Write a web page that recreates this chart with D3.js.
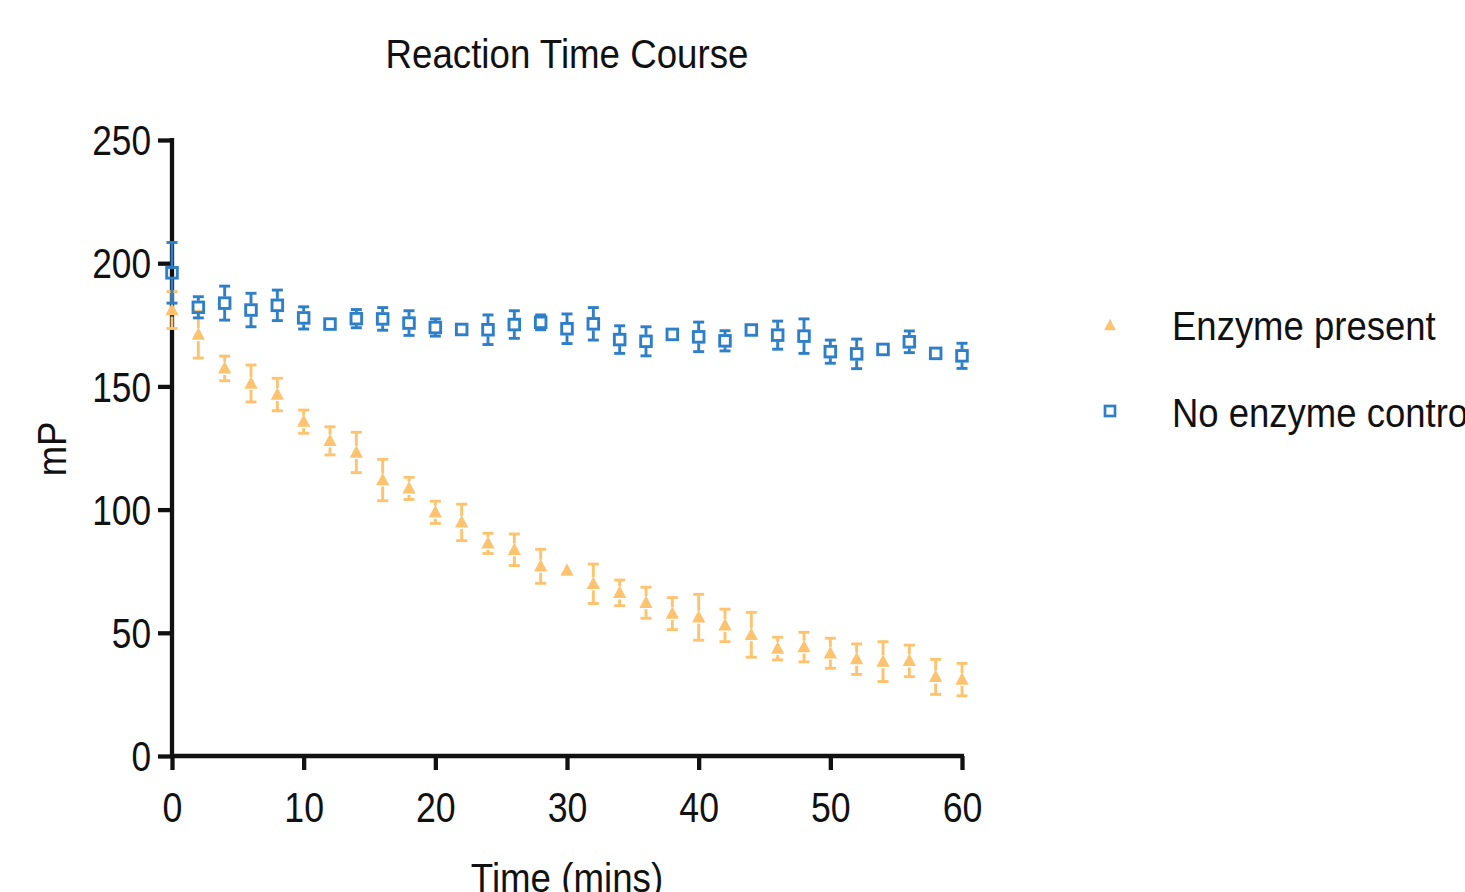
<!DOCTYPE html>
<html>
<head>
<meta charset="utf-8">
<script src="https://cdn.jsdelivr.net/npm/d3@7"></script>
<style>
  body { margin: 0; background: #fff; }
  text { font-family: "Liberation Sans", Arial, sans-serif; fill: #111; }
</style>
</head>
<body>
<div id="chart"></div>
<script>
// time points (mins)
var timePoints = [0, 2, 4, 6, 8, 10, 12, 14, 16, 18, 20, 22, 24, 26, 28, 30,
                  32, 34, 36, 38, 40, 42, 44, 46, 48, 50, 52, 54, 56, 58, 60];

// Enzyme present: mean mP and error
var enzymeMean = [181, 171, 157.3, 151.2, 146.7, 135.7, 127.9, 123.2, 112, 108.6, 98.9,
                  94.8, 86.3, 83.7, 77, 75.3, 69.9, 66.2, 62.2, 57.8, 56.3,
                  53, 49.2, 43.6, 44.2, 41.7, 39.3, 38.3, 38.6, 32.1, 31];
var enzymeErr  = [7.5, 9.5, 5, 7.5, 6.6, 4.7, 5.7, 8.2, 8.4, 4.5, 4.5,
                  7.4, 4.1, 6.4, 6.9, 1.5, 8, 5.2, 6.3, 6.5, 9.3,
                  6.6, 9.1, 4.6, 6, 6.1, 6.2, 8.1, 6.4, 7.1, 6.6];

// No enzyme control: mean mP and error
var controlMean = [196.1, 182.1, 183.8, 181, 182.9, 177.8, 175.3, 177.5, 177.4, 175.7, 173.9,
                   173.1, 173, 175.1, 176, 173.4, 175.4, 169, 168.3, 171.1, 170.1,
                   168.5, 172.9, 170.8, 170.4, 164.1, 163.2, 165, 168.1, 163.4, 162.4];
var controlErr  = [12.3, 4.3, 6.9, 6.8, 6.2, 4.5, 1.5, 3.7, 4.6, 5, 3.5,
                   1.5, 6, 5.6, 3, 6, 6.6, 5.6, 5.9, 1.5, 6,
                   4.1, 1.5, 5.7, 7, 4.7, 6, 1.5, 4.4, 1.5, 5.1];

var xTicks = [0, 10, 20, 30, 40, 50, 60];
var yTicks = [0, 50, 100, 150, 200, 250];
var seriesNames = ["Enzyme present", "No enzyme control"];

var orange = "#fec36f", blue = "#2f7fc8";
var W = 1465, H = 892;

var svg = d3.select("#chart").append("svg")
    .attr("width", W).attr("height", H);

var x = d3.scaleLinear().domain([0, 60]).range([172, 962]);
var y = d3.scaleLinear().domain([0, 250]).range([756, 140]);

// condensed look: squeeze text horizontally
function squeeze(sel, k) {
    sel.each(function() {
        var w = this.getComputedTextLength();
        this.setAttribute("textLength", w * k);
        this.setAttribute("lengthAdjust", "spacingAndGlyphs");
    });
}

// axes
var gx = svg.append("g").attr("transform", "translate(0,756)")
    .call(d3.axisBottom(x).tickValues(xTicks).tickSizeOuter(0).tickSize(14).tickPadding(22));
var gy = svg.append("g").attr("transform", "translate(172,0)")
    .call(d3.axisLeft(y).tickValues(yTicks).tickSizeOuter(0).tickSize(14).tickPadding(7));

[gx, gy].forEach(function(g) {
    g.select(".domain").attr("stroke", "#111").attr("stroke-width", 4.3);
    g.selectAll(".tick line").attr("stroke", "#111").attr("stroke-width", 4.3);
    g.selectAll(".tick text").attr("font-size", 42).attr("fill", "#111")
        .style("font-family", "'Liberation Sans', Arial, sans-serif");
});
gx.select(".domain").attr("d", "M170,0H964");
gy.select(".domain").attr("d", "M0,138V758");
gx.selectAll(".tick text").attr("dy", "0.71em");
gy.selectAll(".tick text").attr("dy", "0.35em");
squeeze(gx.selectAll(".tick text"), 0.85);
squeeze(gy.selectAll(".tick text"), 0.84);

// titles
svg.append("text").attr("x", 567).attr("y", 68).attr("text-anchor", "middle")
    .attr("font-size", 41).text("Reaction Time Course").call(squeeze, 0.895);
svg.append("text").attr("x", 567).attr("y", 892).attr("text-anchor", "middle")
    .attr("font-size", 41).text("Time (mins)").call(squeeze, 0.895);
svg.append("text").attr("transform", "translate(66,449) rotate(-90)")
    .attr("text-anchor", "middle").attr("font-size", 41).text("mP").call(squeeze, 0.89);

// markers
var triPath = "M0,-7.3L6.6,5.2L-6.6,5.2Z";
var half = 6.5;

function drawSeries(mean, err, color, kind) {
    var g = svg.append("g");
    var pts = timePoints.map(function(t, i) { return {t: t, v: mean[i], e: err[i]}; });

    var eb = g.selectAll(".eb").data(pts).enter().append("g")
        .attr("transform", function(d) { return "translate(" + x(d.t) + ",0)"; });
    eb.each(function(d) {
        var s = d3.select(this);
        var cy = y(d.v), top = y(d.v + d.e), bot = y(d.v - d.e);
        if (cy - top < half) return;
        s.append("line").attr("y1", top).attr("y2", cy - half);
        s.append("line").attr("y1", cy + half).attr("y2", bot);
        s.append("line").attr("x1", -5.5).attr("x2", 5.5).attr("y1", top).attr("y2", top);
        s.append("line").attr("x1", -5.5).attr("x2", 5.5).attr("y1", bot).attr("y2", bot);
    });
    eb.selectAll("line").attr("stroke", color).attr("stroke-width", 2.9);

    if (kind === "tri") {
        g.selectAll(".m").data(pts).enter().append("path")
            .attr("d", triPath).attr("fill", color)
            .attr("transform", function(d) { return "translate(" + x(d.t) + "," + y(d.v) + ")"; });
    } else {
        g.selectAll(".m").data(pts).enter().append("rect")
            .attr("x", function(d) { return x(d.t) - 5.3; })
            .attr("y", function(d) { return y(d.v) - 5.3; })
            .attr("width", 10.6).attr("height", 10.6)
            .attr("fill", "none").attr("stroke", color).attr("stroke-width", 2.9);
    }
}

drawSeries(enzymeMean, enzymeErr, orange, "tri");
drawSeries(controlMean, controlErr, blue, "sq");

// legend
var leg = svg.append("g");
leg.append("path").attr("d", "M0,-6.3L5.8,5.2L-5.8,5.2Z").attr("fill", orange)
    .attr("transform", "translate(1110,325)");
leg.append("rect").attr("x", 1105).attr("y", 406).attr("width", 10).attr("height", 10)
    .attr("fill", "none").attr("stroke", blue).attr("stroke-width", 2.7);
leg.selectAll(".lt").data(seriesNames).enter().append("text")
    .attr("x", 1172).attr("y", function(d, i) { return 340 + i * 87; })
    .attr("font-size", 41).text(function(d) { return d; })
    .call(squeeze, 0.89);
</script>
</body>
</html>
